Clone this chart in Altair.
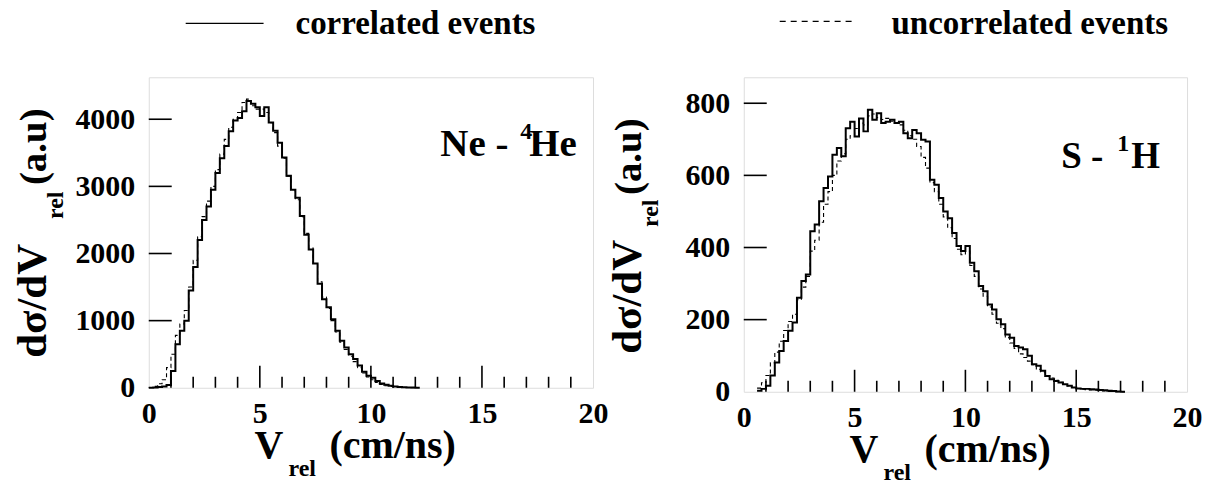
import altair as alt
import pandas as pd

# ---------------- data (bin width 0.2 cm/ns) -------------
BIN = 0.2
ne_start = 0.0
ne_corr = [0, 5, 10, 20, 40, 250, 650, 850, 1000, 1450, 1800, 2200, 2500, 2700, 2950,
           3200, 3420, 3600, 3820, 3980, 4020, 4120, 4270, 4230, 4180, 4050, 4180, 3950,
           3830, 3650, 3430, 3160, 2950, 2830, 2560, 2280, 2060, 1850, 1550, 1320, 1200,
           1020, 850, 700, 600, 500, 430, 330, 240, 180, 150, 100, 65, 45, 30, 20, 12, 8,
           5, 3, 0]
ne_unc = [5, 20, 60, 120, 300, 500, 780, 950, 1150, 1500, 1900, 2250, 2550, 2780, 3000,
          3250, 3480, 3700, 3880, 4000, 4100, 4250, 4300, 4200, 4150, 4150, 4100, 3950,
          3800, 3600, 3420, 3150, 2950, 2800, 2550, 2300, 2080, 1850, 1580, 1350, 1180,
          1000, 830, 680, 570, 470, 390, 300, 220, 160, 120, 80, 50, 30, 20, 12, 8, 5, 3, 0]

s_start = 0.6
s_corr = [3, 8, 17, 45, 81, 113, 141, 169, 192, 261, 307, 325, 445, 464, 528, 565, 597,
          657, 676, 653, 731, 749, 708, 758, 722, 782, 754, 772, 745, 749, 754, 745, 749,
          717, 703, 726, 717, 699, 694, 588, 574, 537, 500, 481, 440, 404, 390, 404, 358,
          334, 293, 279, 242, 228, 201, 187, 159, 150, 127, 123, 118, 100, 76, 72, 58, 44,
          35, 30, 26, 21, 17, 12, 9, 8, 8, 7, 6, 5, 4, 3, 2, 1, 0]
s_unc = [10, 25, 45, 80, 110, 140, 170, 195, 215, 255, 290, 320, 390, 420, 470, 520, 555,
         600, 640, 660, 700, 710, 730, 745, 740, 765, 770, 760, 755, 758, 750, 745, 740,
         725, 710, 700, 680, 650, 620, 580, 555, 520, 485, 455, 425, 395, 380, 390, 350,
         320, 285, 265, 235, 215, 190, 175, 150, 135, 120, 105, 95, 85, 75, 62, 55, 45, 38,
         32, 26, 20, 16, 12, 9, 7, 6, 5, 4, 3, 2, 1, 1, 0, 0]

minor_ticks = [1, 2, 3, 4, 6, 7, 8, 9, 11, 12, 13, 14, 16, 17, 18, 19]
major_ticks = [5, 10, 15]
x_labels = [0, 5, 10, 15, 20]
ne_yticks = [1000, 2000, 3000, 4000]
ne_ylabels = [0, 1000, 2000, 3000, 4000]
s_yticks = [200, 400, 600, 800]
s_ylabels = [0, 200, 400, 600, 800]

FONT = "Liberation Serif"


def hist_df(start, values):
    xs = [start + BIN * i for i in range(len(values))]
    xs.append(start + BIN * len(values))
    ys = list(values) + [values[-1]]
    return pd.DataFrame({"v": xs, "c": ys})


def txt(x, y, s, size, angle=0, align="left"):
    return alt.Chart(pd.DataFrame({"t": [s]})).mark_text(
        font=FONT, fontWeight="bold", fontSize=size, align=align,
        baseline="alphabetic", angle=angle, color="black"
    ).encode(x=alt.value(x), y=alt.value(y), text="t:N")


def anchor(x1, x2, y):
    return alt.Chart(pd.DataFrame({"a": [0]})).mark_rule(
        strokeOpacity=0, strokeWidth=0.01).encode(
        x=alt.value(x1), x2=alt.value(x2), y=alt.value(y))


def panel(W, H, ymax, corr, cstart, unc, ustart, yticks, ylabels, label_parts, legend, anchors):
    xscale = alt.Scale(domain=[0, 20], nice=False, zero=False)
    yscale = alt.Scale(domain=[0, ymax], nice=False)
    xax = alt.Axis(values=x_labels, ticks=False, grid=False, domain=False, labelFont=FONT,
                   labelFontWeight="bold", labelFontSize=30, labelPadding=11,
                   labelColor="black", labelFlush=False, title=None, format="d")
    yax = alt.Axis(values=ylabels, ticks=False, grid=False, domain=False, labelFont=FONT,
                   labelFontWeight="bold", labelFontSize=30, labelPadding=14,
                   labelColor="black", labelFlush=False, title=None, format="d")

    unc_line = alt.Chart(hist_df(ustart, unc)).mark_line(
        interpolate="step-after", color="black", strokeWidth=1.1, strokeDash=[4, 3]
    ).encode(x=alt.X("v:Q", scale=xscale, axis=xax), y=alt.Y("c:Q", scale=yscale, axis=yax))
    corr_line = alt.Chart(hist_df(cstart, corr)).mark_line(
        interpolate="step-after", color="black", strokeWidth=2
    ).encode(x=alt.X("v:Q", scale=xscale), y=alt.Y("c:Q", scale=yscale))

    minor = alt.Chart(pd.DataFrame({"t": minor_ticks})).mark_rule(
        color="black", strokeWidth=1.6).encode(
        x=alt.X("t:Q", scale=xscale), y=alt.value(H), y2=alt.value(H - 11))
    major = alt.Chart(pd.DataFrame({"t": major_ticks})).mark_rule(
        color="black", strokeWidth=1.6).encode(
        x=alt.X("t:Q", scale=xscale), y=alt.value(H), y2=alt.value(H - 22))
    yt = alt.Chart(pd.DataFrame({"t": yticks})).mark_rule(
        color="black", strokeWidth=1.6).encode(
        y=alt.Y("t:Q", scale=yscale), x=alt.value(0), x2=alt.value(23))

    texts = []
    texts.append(txt(106, H + 70, "V", 40))
    texts.append(txt(140, H + 88, "rel", 24))
    texts.append(txt(181, H + 70, "(cm/ns)", 40))
    yb = label_parts["ytitle"]
    texts.append(txt(-103, yb[0], "dσ/dV", 43, angle=270))
    texts.append(txt(-86, yb[1], "rel", 24, angle=270))
    texts.append(txt(-103, yb[2], "(a.u)", 39, angle=270))
    for (x, y, s, size) in label_parts["label"]:
        texts.append(txt(x, y, s, size))
    lx1, lx2, ly, dash, ltext, tx = legend
    leg_line = alt.Chart(pd.DataFrame({"a": [0]})).mark_rule(
        color="black", strokeWidth=1.4 if not dash else 1.2,
        strokeDash=dash if dash else [1, 0]).encode(
        x=alt.value(lx1), x2=alt.value(lx2), y=alt.value(ly))
    texts.append(txt(tx, -43, ltext, 33))

    anc = [anchor(*a) for a in anchors]
    return alt.layer(unc_line, corr_line, minor, major, yt, leg_line, *texts, *anc).properties(
        width=W, height=H)


left = panel(445, 311, 4625, ne_corr, ne_start, ne_unc, ne_start, ne_yticks, ne_ylabels,
             {"ytitle": [281, 142, 108],
              "label": [(292, 79, "Ne -", 39), (372, 62, "4", 24), (381, 79, "He", 39)]},
             (37, 115, -54, None, "correlated events", 147),
             [(-148, 0, -76), (-148, 0, 414)])
right = panel(444, 315, 872, s_corr, s_start, s_unc, s_start, s_yticks, s_ylabels,
              {"ytitle": [277, 150, 118],
               "label": [(318, 91, "S -", 37), (374, 74, "1", 24), (388, 91, "H", 37)]},
              (36, 111, -56, [6, 5], "uncorrelated events", 148),
              [(0, 466, -76), (0, 466, 414)])

chart = alt.hconcat(left, right, spacing=151, bounds="flush").properties(
    padding=0,
).configure_view(stroke="black", strokeWidth=1.6).configure(background="white")

chart.save("out.html", embed_options={"renderer": "svg", "actions": False})
